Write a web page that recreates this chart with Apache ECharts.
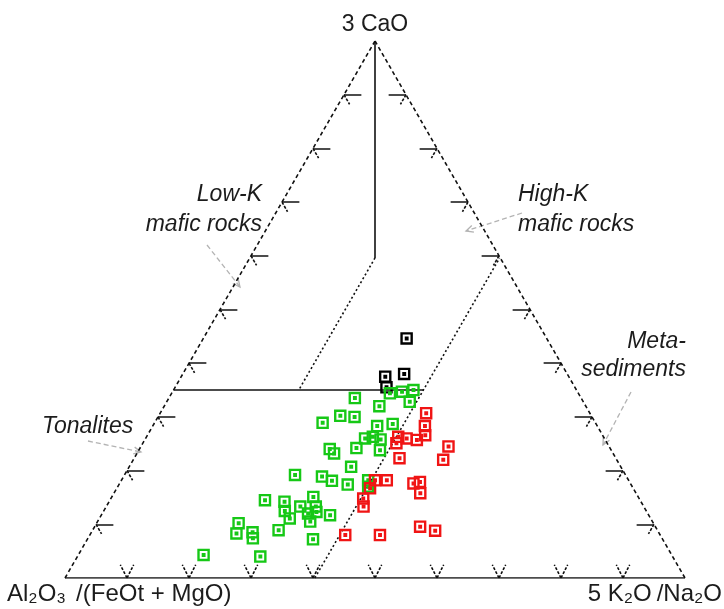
<!DOCTYPE html>
<html>
<head>
<meta charset="utf-8">
<script src="https://cdn.jsdelivr.net/npm/echarts@6/dist/echarts.min.js"></script>
<style>
  html, body { margin: 0; padding: 0; background: #ffffff; }
  #chart { width: 724px; height: 609px; }
</style>
</head>
<body>
<div id="chart"></div>
<script>
// Sample compositions normalised to 100: [3 CaO, 5 K2O/Na2O];
// the remainder is Al2O3/(FeOt + MgO).
const blackSamples = [
  [44.6, 32.8], [37.5, 32.9], [38.0, 35.7], [35.5, 34.1]
];
const greenSamples = [
  [33.5, 30.0], [34.4, 35.2], [34.7, 37.0], [35.0, 38.7], [32.8, 39.2], [32.0, 34.7],
  [28.9, 27.1], [30.2, 29.3], [30.0, 31.7], [28.3, 36.2], [28.7, 38.5], [26.0, 35.4],
  [26.3, 36.5], [25.8, 38.0], [23.8, 38.9], [24.2, 34.9], [23.2, 31.8], [24.0, 30.7],
  [20.7, 35.8], [19.2, 27.5], [18.9, 32.0], [18.1, 34.0], [17.4, 36.9], [18.2, 39.8],
  [17.0, 40.4], [14.5, 25.0], [14.2, 28.3], [12.5, 29.2], [13.3, 31.3], [15.1, 32.5],
  [13.3, 33.8], [12.3, 34.4], [11.7, 36.9], [12.0, 33.2], [11.1, 30.7], [10.5, 34.3],
  [10.2, 22.9], [8.3, 23.5], [8.5, 26.0], [7.4, 26.6], [8.9, 30.0], [7.2, 36.4],
  [4.3, 20.2], [4.0, 29.5]
];
const redSamples = [
  [30.7, 42.9], [28.3, 43.9], [26.6, 44.8], [25.7, 43.9], [26.0, 42.1], [26.3, 40.6],
  [25.1, 40.9], [22.3, 42.8], [24.5, 49.6], [22.0, 50.0], [18.2, 42.8], [18.2, 40.9],
  [16.7, 40.85], [14.8, 40.7], [13.3, 41.5], [17.9, 48.3], [15.8, 49.4], [17.6, 47.4],
  [8.0, 41.2], [8.0, 46.8], [9.55, 52.5], [8.8, 55.3]
];

// Tick positions along each side (percent)
const tickSteps = [10, 20, 30, 40, 50, 60, 70, 80, 90];

// Field boundaries as [3 CaO, 5 K2O/Na2O] end points
const solidBoundaries = [
  [[100, 0], [59.6, 20.2]],   // from the CaO apex down the middle
  [[35, 0], [35, 40.3]]       // Tonalites upper limit
];
const dottedBoundaries = [
  [[59.6, 20.2], [35, 20.2]],  // Low-K / High-K mafic rocks
  [[0, 40.3], [59.6, 40.3]]    // Meta-sediments limit
];

const H = Math.sqrt(3) / 2 * 100;
// ternary [CaO, K] -> planar x, y (base length 100)
function toXY(p) {
  const ca = p[0], k = p[1];
  return [k + ca / 2, ca * H / 100];
}

// Triangle frame
const apex = toXY([100, 0]);
const leftV = toXY([0, 0]);
const rightV = toXY([0, 100]);

const solidSegs = [{ coords: [leftV, rightV] }];
const edgeSegs = [{ coords: [leftV, apex] }, { coords: [apex, rightV] }];
const strokeSegs = [];
const SHAFT = 2.8, HEAD = 1.8, VLEN = 2.4;
tickSteps.forEach(function (f) {
  // left side: arrows pointing outwards to the left
  const pl = toXY([f, 0]);
  solidSegs.push({ coords: [pl, [pl[0] + SHAFT, pl[1]]] });
  strokeSegs.push({ coords: [pl, [pl[0] + HEAD * 0.5, pl[1] - HEAD * 0.866]] });
  // right side: arrows pointing outwards to the right
  const pr = toXY([f, 100 - f]);
  solidSegs.push({ coords: [[pr[0] - SHAFT, pr[1]], pr] });
  strokeSegs.push({ coords: [pr, [pr[0] - HEAD * 0.5, pr[1] - HEAD * 0.866]] });
  // base: V marks
  const pb = toXY([0, f]);
  strokeSegs.push({ coords: [pb, [pb[0] - VLEN * 0.45, pb[1] + VLEN * 0.89]] });
  strokeSegs.push({ coords: [pb, [pb[0] + VLEN * 0.45, pb[1] + VLEN * 0.89]] });
});
solidBoundaries.forEach(function (b) { solidSegs.push({ coords: [toXY(b[0]), toXY(b[1])] }); });
const dottedSegs = dottedBoundaries.map(function (b) { return { coords: [toXY(b[0]), toXY(b[1])] }; });

// Square marker with an inner block
const markerPath = 'path://M0,0H10V10H0Z M1.9,1.9V8.1H8.1V1.9Z M3.5,3.4H6.6V6.6H3.5Z';

function sampleSeries(name, samples, color) {
  return {
    name: name,
    type: 'scatter',
    symbol: markerPath,
    symbolSize: 12.5,
    itemStyle: { color: color, opacity: 1 },
    data: samples.map(toXY),
    silent: true
  };
}

function lineSeries(segs, width, dash) {
  return {
    type: 'lines',
    coordinateSystem: 'cartesian2d',
    polyline: false,
    silent: true,
    lineStyle: { color: '#111111', width: width, type: dash, opacity: 1, curveness: 0 },
    data: segs,
    z: 1
  };
}

// Grey dashed pointer with an open arrow head at (x2, y2)
function pointer(x1, y1, x2, y2) {
  const a = Math.atan2(y2 - y1, x2 - x1);
  const L = 8, s = 0.45;
  const h1 = [x2 - L * Math.cos(a - s), y2 - L * Math.sin(a - s)];
  const h2 = [x2 - L * Math.cos(a + s), y2 - L * Math.sin(a + s)];
  const st = { stroke: '#b3b3b3', lineWidth: 1.3, fill: null };
  return [
    { type: 'polyline', shape: { points: [[x1, y1], [x2, y2]] }, style: Object.assign({ lineDash: [5, 3] }, st), silent: true },
    { type: 'polyline', shape: { points: [h1, [x2, y2], h2] }, style: st, silent: true }
  ];
}

const FONT = '"Liberation Sans", Arial, Helvetica, sans-serif';
const annoFont = 'italic 23px ' + FONT;
const textFill = '#1c1c1c';
const richLeft = {
  n: { fontSize: 24, fontFamily: FONT, fill: textFill },
  sl: { fontSize: 24, fontFamily: FONT, fill: textFill, padding: [0, 0, 0, 10] }
};
const richRight = {
  n: { fontSize: 24, fontFamily: FONT, fill: textFill },
  sl: { fontSize: 24, fontFamily: FONT, fill: textFill, padding: [0, 0, 0, 5] }
};

const chart = echarts.init(document.getElementById('chart'), null, { renderer: 'canvas' });
chart.setOption({
  animation: false,
  backgroundColor: '#ffffff',
  grid: { left: 65, right: 39, top: 41, bottom: 31 },
  xAxis: { type: 'value', min: 0, max: 100, show: false },
  yAxis: { type: 'value', min: 0, max: H, show: false },
  series: [
    lineSeries(edgeSegs, 1.6, [4, 3]),
    lineSeries(solidSegs, 1.6, 'solid'),
    lineSeries(strokeSegs, 1.6, [3, 1.5]),
    lineSeries(dottedSegs, 1.6, [2, 2.5]),
    sampleSeries('black', blackSamples, '#000000'),
    sampleSeries('green', greenSamples, '#16c816'),
    sampleSeries('red', redSamples, '#f01414')
  ],
  graphic: [
    { type: 'text', x: 375, y: 25, silent: true,
      style: { text: '3 CaO', font: '23px ' + FONT, fill: textFill, align: 'center', verticalAlign: 'middle' } },
    { type: 'text', x: 7, y: 594, silent: true,
      style: { text: '{n|Al₂O₃}{sl|/}{n|(FeOt + MgO)}', rich: richLeft, align: 'left', verticalAlign: 'middle' } },
    { type: 'text', x: 722, y: 594, silent: true,
      style: { text: '{n|5 K₂O}{sl|/}{n|Na₂O}', rich: richRight, align: 'right', verticalAlign: 'middle' } },
    { type: 'text', x: 262, y: 210, silent: true,
      style: { text: 'Low-K\nmafic rocks', font: annoFont, fill: textFill, align: 'right', verticalAlign: 'middle', lineHeight: 30 } },
    { type: 'text', x: 518, y: 210, silent: true,
      style: { text: 'High-K\nmafic rocks', font: annoFont, fill: textFill, align: 'left', verticalAlign: 'middle', lineHeight: 30 } },
    { type: 'text', x: 686, y: 356, silent: true,
      style: { text: 'Meta-\nsediments', font: annoFont, fill: textFill, align: 'right', verticalAlign: 'middle', lineHeight: 28 } },
    { type: 'text', x: 42, y: 427, silent: true,
      style: { text: 'Tonalites', font: annoFont, fill: textFill, align: 'left', verticalAlign: 'middle' } }
  ].concat(
    pointer(207, 245, 240, 287),
    pointer(522, 213, 466, 231),
    pointer(631, 392, 603, 445),
    pointer(88, 441, 141, 452)
  )
});
</script>
</body>
</html>
